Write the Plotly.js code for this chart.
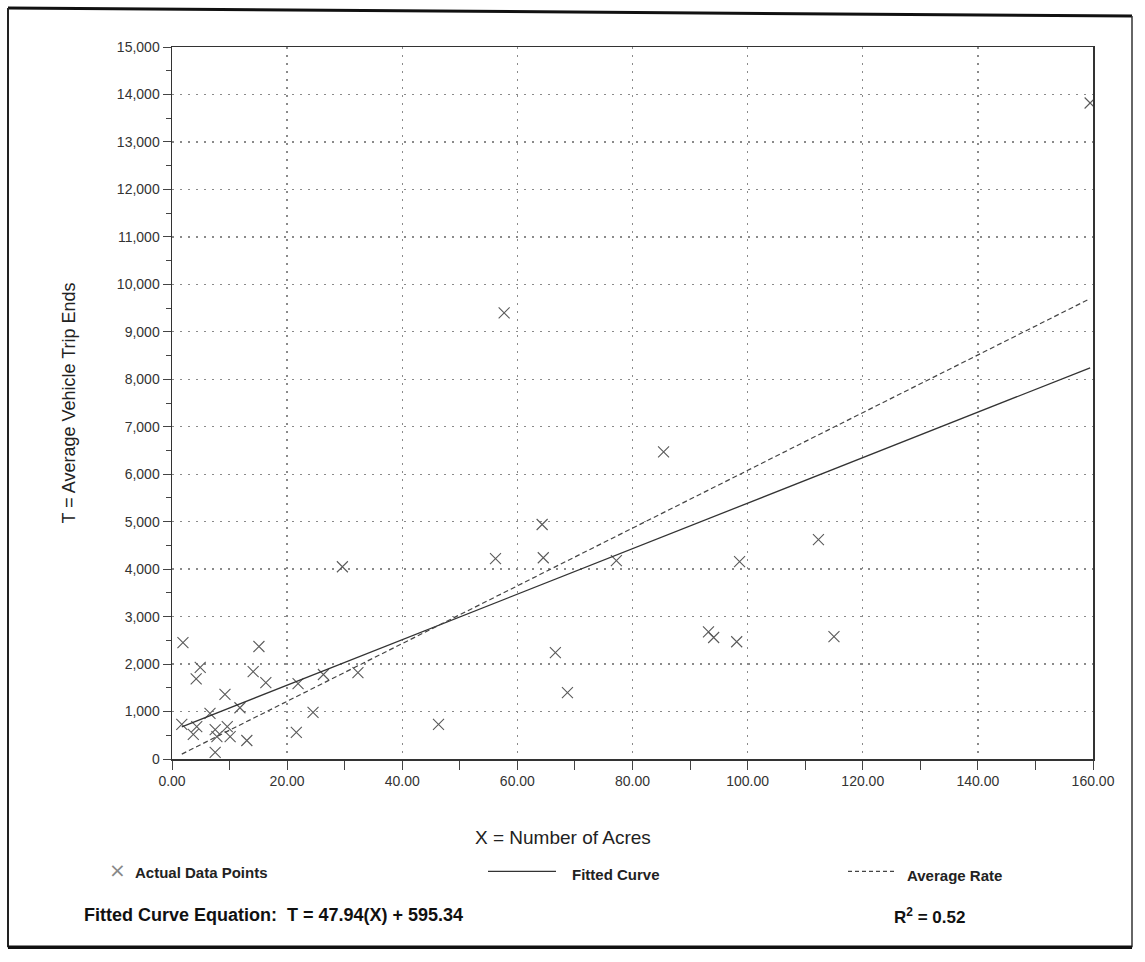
<!DOCTYPE html>
<html><head><meta charset="utf-8">
<script src="https://cdn.plot.ly/plotly-3.0.1.min.js"></script>
<style>
html,body{margin:0;padding:0;background:#fff;}
#chart{width:1145px;height:962px;}
</style></head><body>
<div id="chart"></div>
<script>
// Actual data points (X = acres, T = average vehicle trip ends)
const acres = [159.5, 57.7, 85.4, 64.3, 56.2, 64.5, 29.6, 77.2, 98.6, 112.3,
  93.2, 94.1, 98.1, 115.0, 66.6, 68.7, 46.3, 32.3, 26.3, 21.9,
  24.5, 21.6, 1.9, 15.1, 4.9, 4.2, 14.1, 16.3, 9.2, 6.6,
  11.8, 1.7, 3.7, 7.5, 9.6, 10.1, 7.8, 13.0, 7.5, 4.3];
const tripEnds = [13820, 9400, 6470, 4940, 4220, 4240, 4050, 4180, 4160, 4620,
  2680, 2560, 2470, 2580, 2240, 1400, 730, 1820, 1780, 1590,
  980, 560, 2450, 2370, 1930, 1690, 1840, 1610, 1360, 960,
  1080, 730, 520, 620, 680, 470, 470, 390, 140, 680];

// Fitted curve T = 47.94(X) + 595.34, drawn across the data range
const fittedX = [1.7, 159.5];
const fittedY = [677, 8242];
// Average rate line
const avgRateX = [1.7, 159.5];
const avgRateY = [103, 9698];

const xTickVals = [0, 20, 40, 60, 80, 100, 120, 140, 160];
const xTickText = ["0.00", "20.00", "40.00", "60.00", "80.00", "100.00", "120.00", "140.00", "160.00"];
const yTickVals = [0,1000,2000,3000,4000,5000,6000,7000,8000,9000,10000,11000,12000,13000,14000,15000];
const yTickText = ["0","1,000","2,000","3,000","4,000","5,000","6,000","7,000","8,000","9,000","10,000","11,000","12,000","13,000","14,000","15,000"];

const L = 172, R = 52, T = 47, B = 202.5, W = 1145, H = 962;
const pw = W - L - R, ph = H - T - B;
const px = v => (v - L) / pw;
const py = v => (H - B - v) / ph;

const traces = [
  {x: acres, y: tripEnds, type: 'scatter', mode: 'markers', name: 'Actual Data Points',
   marker: {symbol: 'x-thin', size: 11, line: {width: 1.1, color: '#5a5a5a'}, color: '#5a5a5a'}},
  {x: fittedX, y: fittedY, type: 'scatter', mode: 'lines', name: 'Fitted Curve',
   line: {color: '#333', width: 1.3}},
  {x: avgRateX, y: avgRateY, type: 'scatter', mode: 'lines', name: 'Average Rate',
   line: {color: '#444', width: 1.2, dash: '5px,3px'}}
];

const fontFam = '"Liberation Sans", Arial, sans-serif';
const layout = {
  width: W, height: H,
  margin: {l: L, r: R, t: T, b: B},
  paper_bgcolor: '#fff', plot_bgcolor: '#fff',
  showlegend: false,
  font: {family: fontFam, color: '#222'},
  xaxis: {
    range: [0, 160], tickvals: xTickVals, ticktext: xTickText,
    ticks: 'outside', ticklen: 9, tickcolor: '#444', tickwidth: 1,
    minor: {dtick: 10, ticks: 'outside', ticklen: 9, tickcolor: '#444', showgrid: false},
    showline: true, linecolor: '#333', linewidth: 1.5, mirror: true,
    showgrid: true, gridcolor: '#8a8a8a', griddash: '2px,6px', gridwidth: 1.3,
    zeroline: false,
    tickfont: {size: 14, color: '#333', family: fontFam}
  },
  yaxis: {
    range: [0, 15000], tickvals: yTickVals, ticktext: yTickText,
    ticks: 'outside', ticklen: 8, tickcolor: '#444', tickwidth: 1,
    minor: {dtick: 500, ticks: 'outside', ticklen: 5, tickcolor: '#444', showgrid: false},
    showline: true, linecolor: '#333', linewidth: 1.5, mirror: true,
    showgrid: true, gridcolor: '#8a8a8a', griddash: '2px,6px', gridwidth: 1.3,
    zeroline: false,
    tickfont: {size: 14, color: '#333', family: fontFam},
    title: {text: 'T = Average Vehicle Trip Ends', font: {size: 18, color: '#222', family: fontFam}, standoff: 36}
  },
  shapes: [
    // outer frame
    {type: 'line', xref: 'paper', yref: 'paper', x0: px(8), y0: py(8), x1: px(1132), y1: py(16), line: {color: '#111', width: 3}},
    {type: 'line', xref: 'paper', yref: 'paper', x0: px(8), y0: py(8), x1: px(8), y1: py(948), line: {color: '#222', width: 2}},
    {type: 'line', xref: 'paper', yref: 'paper', x0: px(1132), y0: py(16), x1: px(1132), y1: py(948), line: {color: '#333', width: 1.5}},
    {type: 'line', xref: 'paper', yref: 'paper', x0: px(8), y0: py(948), x1: px(1132), y1: py(948), line: {color: '#111', width: 3.5}},
    // legend samples
    {type: 'line', xref: 'paper', yref: 'paper', x0: px(488), y0: py(872), x1: px(556), y1: py(872), line: {color: '#333', width: 1.3}},
    {type: 'line', xref: 'paper', yref: 'paper', x0: px(848), y0: py(872), x1: px(896), y1: py(872), line: {color: '#444', width: 1.2, dash: '4px,3px'}}
  ],
  annotations: [
    {xref: 'paper', yref: 'paper', x: px(563), y: py(838), text: 'X = Number of Acres', showarrow: false,
     font: {size: 19, color: '#222', family: fontFam}, xanchor: 'center', yanchor: 'middle'},
    {xref: 'paper', yref: 'paper', x: px(117), y: py(871), text: '×', showarrow: false,
     font: {size: 20, color: '#888', family: '"DejaVu Sans", sans-serif'}, xanchor: 'center', yanchor: 'middle'},
    {xref: 'paper', yref: 'paper', x: px(133), y: py(873), text: '<b>Actual Data Points</b>', showarrow: false,
     font: {size: 15, color: '#222', family: fontFam}, xanchor: 'left', yanchor: 'middle'},
    {xref: 'paper', yref: 'paper', x: px(570), y: py(875), text: '<b>Fitted Curve</b>', showarrow: false,
     font: {size: 15, color: '#222', family: fontFam}, xanchor: 'left', yanchor: 'middle'},
    {xref: 'paper', yref: 'paper', x: px(905), y: py(876), text: '<b>Average Rate</b>', showarrow: false,
     font: {size: 15, color: '#222', family: fontFam}, xanchor: 'left', yanchor: 'middle'},
    {xref: 'paper', yref: 'paper', x: px(82), y: py(916), text: '<b>Fitted Curve Equation:  T = 47.94(X) + 595.34</b>', showarrow: false,
     font: {size: 18, color: '#111', family: fontFam}, xanchor: 'left', yanchor: 'middle'},
    {xref: 'paper', yref: 'paper', x: px(892), y: py(917), text: '<b>R<sup>2</sup> = 0.52</b>', showarrow: false,
     font: {size: 17, color: '#111', family: fontFam}, xanchor: 'left', yanchor: 'middle'}
  ]
};

Plotly.newPlot('chart', traces, layout, {displayModeBar: false, staticPlot: true});
</script>
</body></html>
